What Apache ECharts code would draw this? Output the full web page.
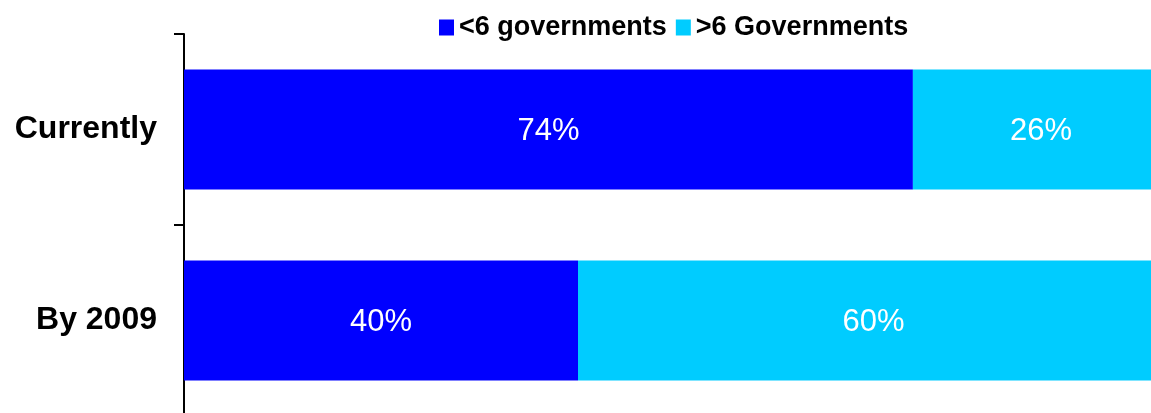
<!DOCTYPE html>
<html>
<head>
<meta charset="utf-8">
<style>
  html, body { margin: 0; padding: 0; background: #fff; overflow: hidden; }
  #wrap { width: 1151px; height: 413px; overflow: hidden; position: relative; }
  /* The plot runs a little past the right edge, so the canvas is wider than the view */
  #chart { width: 1169px; height: 416px; position: absolute; left: 0; top: 0; }
</style>
<script src="https://cdn.jsdelivr.net/npm/echarts@6/dist/echarts.min.js"></script>
</head>
<body>
<div id="wrap"><div id="chart"></div></div>
<script>
// Share of respondents by number of governments worked with
const categories = ['Currently', 'By 2009'];
const seriesNames = ['<6 governments', '>6 Governments'];
const lessThanSix = [74, 40];
const moreThanSix = [26, 60];
const colors = ['#0000FF', '#00CCFF'];

const chart = echarts.init(document.getElementById('chart'), null, { renderer: 'canvas' });

const fontFamily = 'Arial, "Liberation Sans", Helvetica, sans-serif';

function barSeries(name, data, color) {
  return {
    name: name,
    type: 'bar',
    stack: 'total',
    data: data,
    barWidth: 120,
    itemStyle: { color: color },
    label: {
      show: true,
      position: 'inside',
      offset: [0, 2],
      color: '#ffffff',
      fontFamily: fontFamily,
      fontSize: 31,
      formatter: '{c}%'
    },
    emphasis: { disabled: true }
  };
}

chart.setOption({
  animation: false,
  color: colors,
  legend: {
    left: 434,
    top: 9,
    itemWidth: 15,
    itemHeight: 16,
    itemGap: 9,
    icon: 'rect',
    textStyle: {
      fontFamily: fontFamily,
      fontWeight: 'bold',
      fontSize: 27,
      color: '#000'
    },
    data: seriesNames
  },
  grid: {
    left: 184,
    right: 0,
    top: 34,
    bottom: 0,
    containLabel: false
  },
  xAxis: {
    type: 'value',
    min: 0,
    max: 100,
    show: false
  },
  yAxis: {
    type: 'category',
    data: categories,
    inverse: true,
    axisLine: { show: true, lineStyle: { color: '#000', width: 2 } },
    axisTick: { show: true, length: 10, lineStyle: { color: '#000', width: 2 } },
    axisLabel: {
      margin: 27,
      padding: [4, 0, 0, 0],
      fontFamily: fontFamily,
      fontWeight: 'bold',
      fontSize: 32,
      color: '#000'
    },
    splitLine: { show: false }
  },
  series: [
    barSeries(seriesNames[0], lessThanSix, colors[0]),
    barSeries(seriesNames[1], moreThanSix, colors[1])
  ]
});
</script>
</body>
</html>
